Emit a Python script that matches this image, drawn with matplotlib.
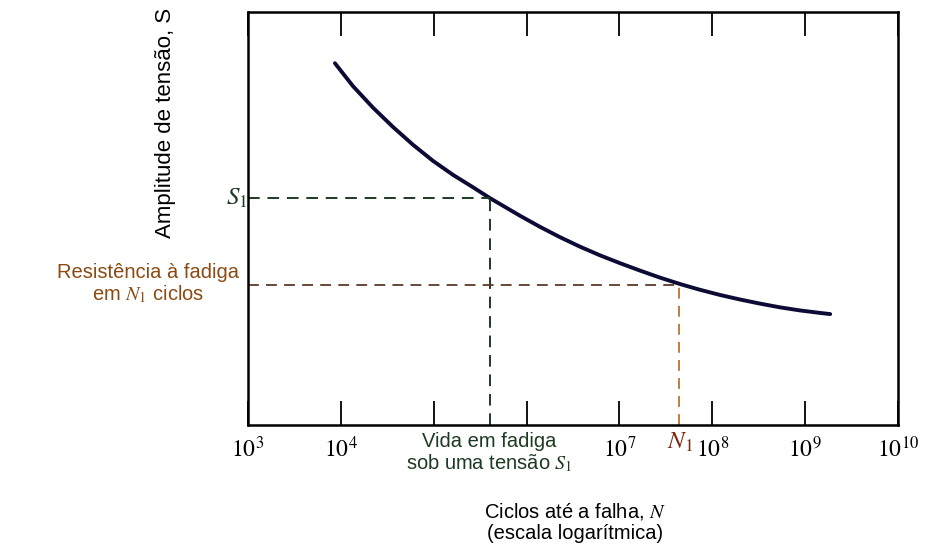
import matplotlib
matplotlib.use('Agg')
import matplotlib.pyplot as plt

# curve: log10(N) and stress amplitude (arbitrary units, 0-100)
log_n = [3.937, 4.131, 4.346, 4.562, 4.777, 4.992, 5.208, 5.423, 5.606, 5.929,
         6.145, 6.360, 6.575, 6.791, 7.006, 7.222, 7.437, 7.652, 7.868, 8.083,
         8.298, 8.514, 8.729, 8.945, 9.160, 9.268]
stress = [87.65, 82.1, 76.9, 72.2, 67.9, 64.0, 60.6, 57.6, 54.96, 50.7,
          48.0, 45.5, 43.2, 41.1, 39.2, 37.4, 35.7, 34.15, 32.75, 31.5,
          30.4, 29.4, 28.5, 27.75, 27.15, 26.87]

# reference points
s1_level = 54.96
n_s1 = 10 ** 5.606
n1 = 10 ** 7.641
s_n1 = 34.0

tick_exp = [3, 4, 5, 6, 7, 8, 9, 10]
tick_labels = ['$10^{3}$', '$10^{4}$', '', '', '$10^{7}$', '$10^{8}$', '$10^{9}$', '$10^{10}$']

plt.rcParams['mathtext.fontset'] = 'stix'
plt.rcParams['font.family'] = ['Liberation Sans', 'DejaVu Sans']

green = '#1d3a22'
brown = '#8a4a12'
red_brown = '#7a2a10'

fig = plt.figure(figsize=(9.25, 5.57), dpi=100)
ax = fig.add_axes([0.268, 0.237, 0.703, 0.741])

n = [10 ** v for v in log_n]
ax.plot(n, stress, color='#0b0b35', lw=2.8, solid_capstyle='round', solid_joinstyle='round')

# dashed guide lines
ax.plot([1e3, n_s1], [s1_level, s1_level], color=green, lw=1.4, ls=(0, (6, 4)))
ax.plot([n_s1, n_s1], [0, s1_level], color=green, lw=1.4, ls=(0, (6, 4)))
ax.plot([1e3, n1], [s_n1, s_n1], color='#5a3a2a', lw=1.3, ls=(0, (6, 4)))
ax.plot([n1, n1], [0, s_n1], color='#b8742e', lw=1.3, ls=(0, (6, 4)))

ax.set_xscale('log')
ax.set_xlim(1e3, 1e10)
ax.set_ylim(0, 100)
ax.set_xticks([10 ** e for e in tick_exp])
ax.set_xticklabels(tick_labels, fontsize=17)
ax.minorticks_off()
ax.set_yticks([])
ax.tick_params(axis='x', direction='in', length=17, width=1.3, top=True, pad=8)
for sp in ax.spines.values():
    sp.set_linewidth(1.8)

# annotations
ax.text(0.985e3, s1_level, '$S_1$', fontsize=18, color=green, ha='right', va='center',
        clip_on=False)
fig.text(148 / 925, 1 - 284 / 557, 'Resistência à fadiga\nem $N_1$ ciclos', fontsize=14.5,
         color=brown, ha='center', va='center', linespacing=1.1)
fig.text(489 / 925, 1 - 453 / 557, 'Vida em fadiga\nsob uma tensão $S_1$', fontsize=14.5,
         color=green, ha='center', va='center', linespacing=1.1)
fig.text(680 / 925, 1 - 442 / 557, '$N_1$', fontsize=18, color=red_brown, ha='center', va='center')
fig.text(575 / 925, 1 - 522 / 557, 'Ciclos até a falha, $N$\n(escala logarítmica)', fontsize=14.5,
         color='black', ha='center', va='center', linespacing=1.1)
fig.text(165 / 925, 1 - 123 / 557, 'Amplitude de tensão, S', fontsize=16, rotation=90,
         ha='center', va='center')

fig.savefig('out.png', dpi=100)
